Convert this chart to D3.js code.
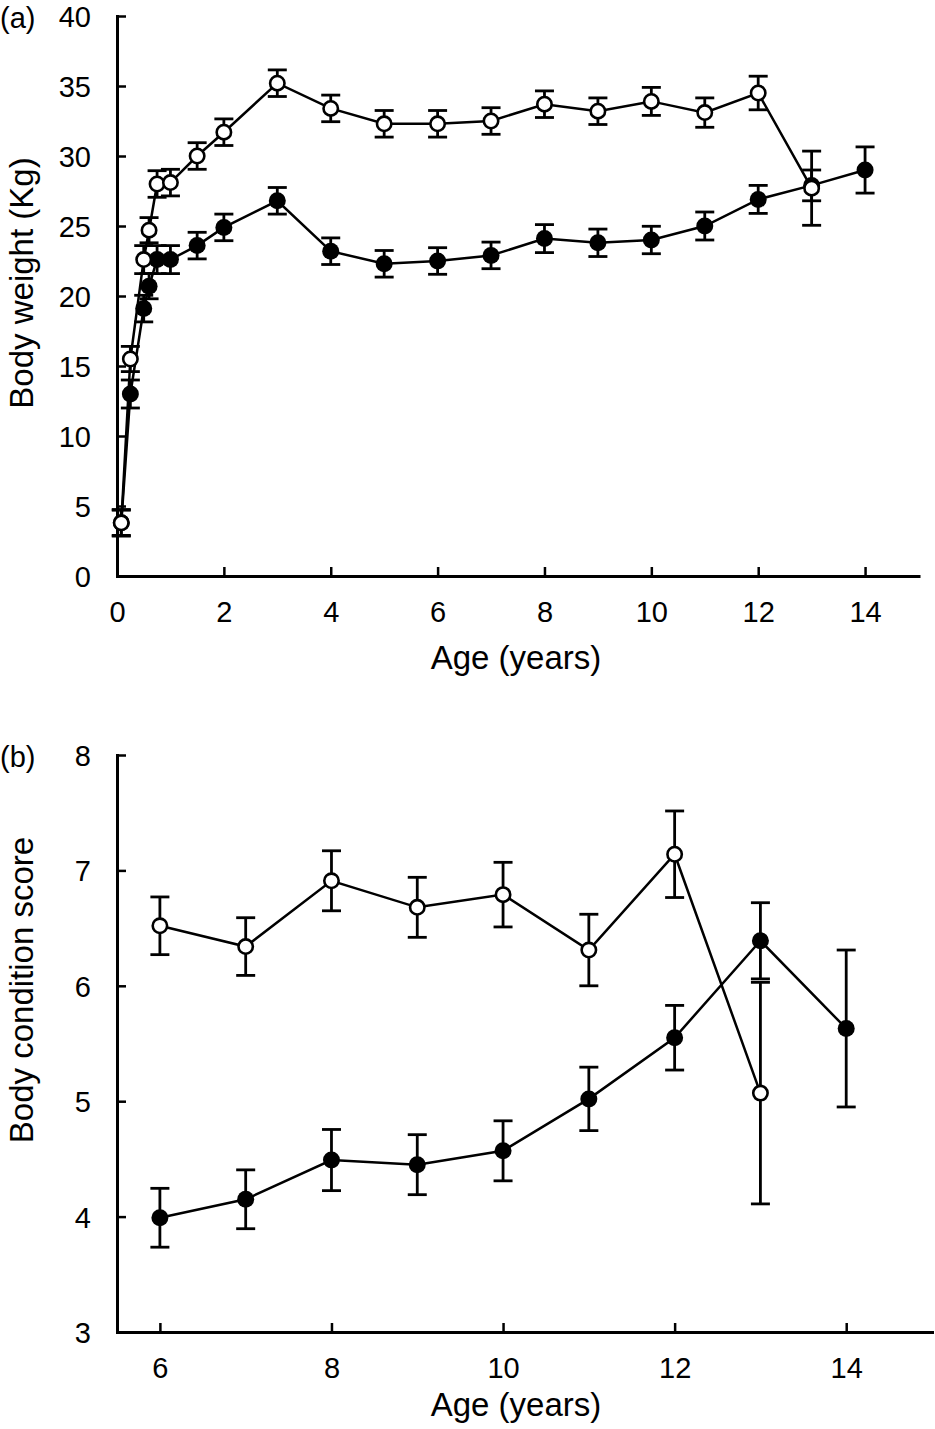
<!DOCTYPE html>
<html>
<head>
<meta charset="utf-8">
<script src="https://cdn.jsdelivr.net/npm/d3@7"></script>
<style>
  html, body { margin: 0; padding: 0; background: #fff; }
  svg { display: block; }
  text { font-family: "Liberation Sans", Arial, sans-serif; fill: #000; }
</style>
</head>
<body>
<svg id="chart" width="935" height="1429"></svg>
<script>
// ---- Panel (a): body weight ----
const ageWeightOpen = [0.08, 0.25, 0.5, 0.6, 0.75, 1, 1.5, 2, 3, 4, 5, 6, 7, 8, 9, 10, 11, 12, 13];
const weightOpen    = [3.8, 15.5, 22.6, 24.7, 28.0, 28.1, 30.0, 31.7, 35.2, 33.4, 32.3, 32.3, 32.5, 33.7, 33.2, 33.9, 33.1, 34.5, 27.7];
const weightOpenErr = [0.95, 0.9, 1.0, 0.9, 0.95, 0.95, 0.95, 0.95, 0.95, 0.95, 0.95, 0.95, 0.95, 0.95, 0.95, 1.0, 1.05, 1.2, 2.65];

const ageWeightFilled = [0.08, 0.25, 0.5, 0.6, 0.75, 1, 1.5, 2, 3, 4, 5, 6, 7, 8, 9, 10, 11, 12, 13, 14];
const weightFilled    = [3.8, 13.0, 19.1, 20.7, 22.6, 22.6, 23.6, 24.9, 26.8, 23.2, 22.3, 22.5, 22.9, 24.1, 23.8, 24.0, 25.0, 26.9, 27.9, 29.0];
const weightFilledErr = [0.9, 1.0, 0.95, 0.9, 1.0, 1.0, 0.95, 0.95, 0.95, 0.95, 0.95, 0.95, 0.95, 1.0, 0.98, 0.98, 1.0, 1.0, 1.1, 1.65];

const weightXTicks = [0, 2, 4, 6, 8, 10, 12, 14];
const weightYTicks = [0, 5, 10, 15, 20, 25, 30, 35, 40];

// ---- Panel (b): body condition score ----
const ageBcsOpen = [6, 7, 8, 9, 10, 11, 12, 13];
const bcsOpen    = [6.52, 6.34, 6.91, 6.68, 6.79, 6.31, 7.14, 5.07];
const bcsOpenErr = [0.25, 0.25, 0.26, 0.26, 0.28, 0.31, 0.375, 0.96];

const ageBcsFilled = [6, 7, 8, 9, 10, 11, 12, 13, 14];
const bcsFilled    = [3.99, 4.15, 4.49, 4.45, 4.57, 5.02, 5.55, 6.39, 5.63];
const bcsFilledErr = [0.255, 0.255, 0.265, 0.26, 0.26, 0.275, 0.28, 0.33, 0.68];

const bcsXTicks = [6, 8, 10, 12, 14];
const bcsYTicks = [3, 4, 5, 6, 7, 8];

const svg = d3.select("#chart");

function zip(xs, ys, es) { return xs.map((x, i) => ({ x, y: ys[i], e: es[i] })); }

function panel(cfg) {
  const g = svg.append("g");
  const x = d3.scaleLinear().domain(cfg.xDomain).range([cfg.left, cfg.right]);
  const y = d3.scaleLinear().domain(cfg.yDomain).range([cfg.bottom, cfg.top]);

  const xAxis = d3.axisBottom(x).tickValues(cfg.xTicks).tickSizeInner(-9).tickSizeOuter(0).tickPadding(25).tickFormat(d3.format("d"));
  const yAxis = d3.axisLeft(y).tickValues(cfg.yTicks).tickSizeInner(-9).tickSizeOuter(0).tickPadding(26).tickFormat(d3.format("d"));

  const gx = g.append("g").attr("transform", `translate(0,${cfg.bottom})`).call(xAxis);
  const gy = g.append("g").attr("transform", `translate(${cfg.left},0)`).call(yAxis);
  [gx, gy].forEach(a => {
    a.select(".domain").attr("stroke", "#000").attr("stroke-width", 3).attr("stroke-linecap", "square");
    a.selectAll(".tick line").attr("stroke", "#000").attr("stroke-width", 2.5);
    a.selectAll(".tick text").style("font-size", "29px").attr("fill", "#000")
      .style("font-family", '"Liberation Sans", Arial, sans-serif');
  });
  gy.selectAll(".tick text").attr("dy", "0.36em");

  g.append("text").attr("x", 516).attr("y", cfg.bottom + cfg.xTitleOffset).attr("text-anchor", "middle")
    .style("font-size", "33px").text("Age (years)");
  g.append("text").attr("transform", `translate(33,${cfg.yTitleCenter}) rotate(-90)`)
    .attr("text-anchor", "middle").style("font-size", "33px").text(cfg.yTitle);
  g.append("text").attr("x", 0).attr("y", cfg.top + 12).style("font-size", "29px").text(cfg.tag);

  const line = d3.line().x(d => x(d.x)).y(d => y(d.y));

  function series(data, filled) {
    const s = g.append("g");
    const eb = s.selectAll(".eb").data(data).join("g");
    eb.append("line").attr("x1", d => x(d.x)).attr("x2", d => x(d.x))
      .attr("y1", d => y(d.y - d.e)).attr("y2", d => y(d.y + d.e))
      .attr("stroke", "#000").attr("stroke-width", 2.8);
    eb.append("line").attr("x1", d => x(d.x) - 9.5).attr("x2", d => x(d.x) + 9.5)
      .attr("y1", d => y(d.y + d.e)).attr("y2", d => y(d.y + d.e))
      .attr("stroke", "#000").attr("stroke-width", 2.8);
    eb.append("line").attr("x1", d => x(d.x) - 9.5).attr("x2", d => x(d.x) + 9.5)
      .attr("y1", d => y(d.y - d.e)).attr("y2", d => y(d.y - d.e))
      .attr("stroke", "#000").attr("stroke-width", 2.8);
    s.append("path").datum(data).attr("d", line).attr("fill", "none")
      .attr("stroke", "#000").attr("stroke-width", 2.5);
    s.selectAll("circle").data(data).join("circle")
      .attr("cx", d => x(d.x)).attr("cy", d => y(d.y))
      .attr("r", filled ? 8.5 : 7.2)
      .attr("fill", filled ? "#000" : "#fff")
      .attr("stroke", "#000").attr("stroke-width", filled ? 0 : 2.6);
  }

  series(zip(cfg.filled.x, cfg.filled.y, cfg.filled.e), true);
  series(zip(cfg.open.x, cfg.open.y, cfg.open.e), false);
}

panel({
  xDomain: [0, 15], yDomain: [0, 40],
  left: 117, right: 918.5, top: 16, bottom: 576, xTitleOffset: 93,
  xTicks: weightXTicks, yTicks: weightYTicks,
  yTitle: "Body weight (Kg)", yTitleCenter: 283, tag: "(a)",
  filled: { x: ageWeightFilled, y: weightFilled, e: weightFilledErr },
  open: { x: ageWeightOpen, y: weightOpen, e: weightOpenErr }
});

panel({
  xDomain: [5.5, 15], yDomain: [3, 8],
  left: 117, right: 932, top: 755, bottom: 1332, xTitleOffset: 84,
  xTicks: bcsXTicks, yTicks: bcsYTicks,
  yTitle: "Body condition score", yTitleCenter: 990, tag: "(b)",
  filled: { x: ageBcsFilled, y: bcsFilled, e: bcsFilledErr },
  open: { x: ageBcsOpen, y: bcsOpen, e: bcsOpenErr }
});
</script>
</body>
</html>
